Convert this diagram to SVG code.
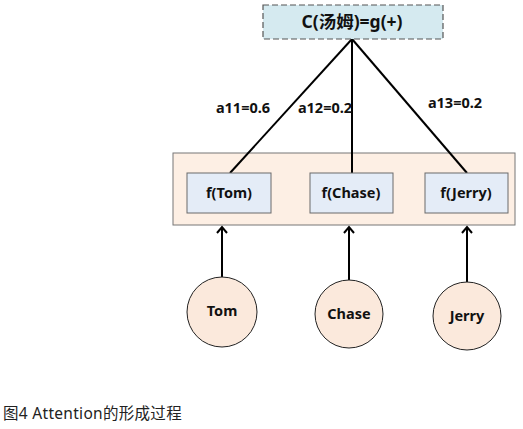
<svg xmlns="http://www.w3.org/2000/svg" width="523" height="429" viewBox="0 0 523 429">
<style>
.t{font-family:"Noto Sans","Noto Sans CJK SC",sans-serif;font-weight:bold;fill:#111;text-anchor:middle}
.box{fill:#e4ecf7;stroke:#6a6a6a;stroke-width:1}
.circ{fill:#fbe9dc;stroke:#222;stroke-width:1}
.ln{stroke:#000;stroke-width:2;fill:none}
</style>
<defs>
<marker id="ah" viewBox="0 0 12 12" refX="8" refY="6" markerWidth="12" markerHeight="12" markerUnits="userSpaceOnUse" orient="auto">
<path d="M2,1 L8,6 L2,11" fill="none" stroke="#000" stroke-width="2"/>
</marker>
</defs>
<rect width="523" height="429" fill="#fff"/>
<g id="container">
<rect x="173" y="153" width="342" height="72" fill="#fdefe4" stroke="#777" stroke-width="1"/>
</g>
<g id="connectors">
<line class="ln" x1="352" y1="39" x2="230" y2="173"/>
<line class="ln" x1="352" y1="39" x2="352" y2="173"/>
<line class="ln" x1="352" y1="39" x2="467" y2="173"/>
<line class="ln" x1="222" y1="277" x2="222" y2="227" marker-end="url(#ah)"/>
<line class="ln" x1="349" y1="280" x2="349" y2="227" marker-end="url(#ah)"/>
<line class="ln" x1="467" y1="282" x2="467" y2="227" marker-end="url(#ah)"/>
<text class="t" x="243" y="113" font-size="14.5">a11=0.6</text>
<text class="t" x="325" y="113" font-size="14.5">a12=0.2</text>
<text class="t" x="455" y="108" font-size="14.5">a13=0.2</text>
</g>
<g id="top">
<rect x="263" y="5" width="180" height="34" fill="#d5eaf0" stroke="#555" stroke-width="1.2" stroke-dasharray="6,3"/>
<text class="t" x="352" y="28" font-size="17.5">C(汤姆)=g(+)</text>
</g>
<g id="fTom">
<rect class="box" x="187" y="173" width="84" height="40"/>
<text class="t" x="229" y="198" font-size="14.5">f(Tom)</text>
</g>
<g id="fChase">
<rect class="box" x="310" y="173" width="83" height="40"/>
<text class="t" x="351" y="198" font-size="14.5">f(Chase)</text>
</g>
<g id="fJerry">
<rect class="box" x="425" y="173" width="83" height="40"/>
<text class="t" x="466" y="198" font-size="14.5">f(Jerry)</text>
</g>
<g id="Tom">
<circle class="circ" cx="222" cy="312" r="35"/>
<text class="t" x="222" y="316" font-size="14.5">Tom</text>
</g>
<g id="Chase">
<circle class="circ" cx="349" cy="314" r="34"/>
<text class="t" x="349" y="319" font-size="14.5">Chase</text>
</g>
<g id="Jerry">
<circle class="circ" cx="467" cy="316" r="34"/>
<text class="t" x="467" y="321" font-size="14.5">Jerry</text>
</g>
<text x="3" y="419" font-family="'Noto Sans','Noto Sans CJK SC',sans-serif" font-size="15.5" letter-spacing="0.3" fill="#222">图4 Attention的形成过程</text>
</svg>
